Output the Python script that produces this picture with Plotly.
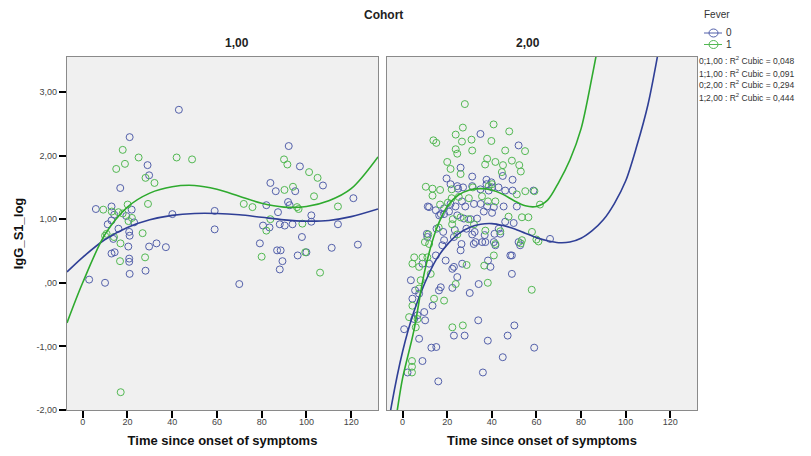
import plotly.graph_objects as go

# ---------------- data ----------------
# Cohort 1,00 - Fever 0
c1_f0_x = [43, 21, 29, 29.7, 16.8, 5.9, 12.9, 14.1, 21.9, 12.9, 11.2, 40.1, 59, 59, 20.8, 13.7, 21, 29.7, 33, 37.2,
           20.4, 2.9, 10, 12.9, 14.3, 20.8, 20.8, 21, 28.1, 70, 79.2, 86.9, 88.5, 89.3, 88.1, 96.1, 98, 100, 111.3,
           123, 92.1, 97.1, 83.9, 86.3, 95, 107.4, 121, 82.1, 87.3, 91.8, 92.5, 102.2, 80.6, 83.5, 88.1, 90.3, 93.8,
           102.2, 114.1, 19.5, 16, 23]
c1_f0_y = [2.72, 2.29, 1.85, 1.69, 1.49, 1.16, 1.20, 1.07, 1.15, 0.98, 0.92, 1.08, 1.13, 0.84, 0.80, 0.69, 0.74, 0.57,
           0.62, 0.56, 0.57, 0.05, 0.0, 0.46, 0.48, 0.38, 0.33, 0.14, 0.19, -0.02, 0.62, 0.51, 0.51, 0.34, 0.21, 0.43,
           0.72, 0.48, 0.55, 0.60, 2.15, 1.83, 1.57, 1.44, 1.44, 1.53, 1.33, 1.22, 1.11, 1.27, 1.22, 1.06, 0.90, 0.87,
           0.92, 0.90, 0.92, 0.96, 0.92, 1.05, 0.85, 0.95]

# Cohort 1,00 - Fever 1
c1_f1_x = [17.9, 18.9, 15, 25, 42, 48.9, 28.1, 32.1, 29.2, 20.1, 9.2, 16, 17.9, 20.5, 10.7, 26.8, 16.9, 10, 16.7, 27.9,
           17, 80, 99.5, 106.1, 90, 91.5, 101.2, 105, 94, 90.2, 103.4, 72, 75.9, 95.8, 96.5, 114.1, 83.9, 82.1, 98.2,
           13, 22, 14]
c1_f1_y = [2.09, 1.87, 1.79, 1.97, 1.97, 1.94, 1.65, 1.57, 1.24, 1.23, 1.15, 1.11, 1.09, 0.97, 0.77, 0.78, 0.62, 0.74,
           0.34, 0.40, -1.72, 0.41, 0.48, 0.16, 1.94, 1.86, 1.74, 1.65, 1.51, 1.46, 1.36, 1.24, 1.19, 1.19, 1.16, 1.20,
           1.00, 0.82, 0.93, 1.12, 1.02, 0.72]

# Cohort 2,00 - Fever 0
c2_f0_x = [34.9, 52, 19.7, 26, 31.2, 37.6, 39.8, 37.6, 44.9, 49.3, 21.5, 24.5, 24.9, 27.1, 31.2, 34.9, 38.6, 40.1, 43,
           46, 49.3, 11.3, 14.9, 18.6, 21.5, 23.7, 26.6, 28.1, 32, 35, 37.9, 40.9, 45.3, 51.2, 16.4, 18.6, 20.8, 24.5,
           27.5, 30.5, 33.4, 36.4, 40.1, 43.1, 46, 49.8, 15.2, 18.2, 23.4, 28.6, 32.3, 36.8, 41.2, 32.7, 35.7, 40.9,
           52, 17.1, 11.9, 11.1, 23, 48.3, 52.7, 66.1, 58.7,
           0.7, 2.2, 8.9, 16, 12.9, 15.1, 23, 27.8, 33.9, 38.2, 36, 44.9, 47.1, 50.1, 59, 49, 34.1, 30.1, 22.3, 24.5,
           16.3, 7.4, 4.4, 5.6, 6.7, 7.4, 5.2, 9.7, 10.1, 13.4, 17.1, 19.3, 23, 26, 26.4, 31.9, 37.1, 41.6, 43.8, 49,
           39.4, 38.3, 10.9, 18.6, 17.8, 31.2, 14.9, 11.9, 3.7, 8.9, 26.7, 22.3]
c2_f0_y = [2.34, 2.16, 1.64, 1.81, 1.67, 1.62, 1.58, 1.55, 1.68, 1.62, 1.55, 1.52, 1.48, 1.50, 1.52, 1.47, 1.45, 1.50,
           1.50, 1.45, 1.45, 1.20, 1.14, 1.17, 1.24, 1.20, 1.28, 1.20, 1.24, 1.24, 1.20, 1.19, 1.20, 1.20, 1.06, 1.08,
           1.12, 1.06, 1.01, 1.00, 1.01, 1.12, 1.10, 0.85, 0.96, 0.94, 0.85, 0.80, 0.83, 0.85, 0.80, 0.75, 0.77, 0.64,
           0.64, 0.64, 0.64, 1.08, 1.19, 0.72, 0.72, 0.43, 0.59, 0.69, 1.45,
           -0.73, -1.41, -1.23, -1.55, -1.02, -1.01, -0.83, -0.83, -0.59, -0.91, -1.41, -1.17, -0.83, -0.67, -1.02,
           0.14, -0.02, -0.16, -0.08, 0.09, -0.12, -0.17, -0.25, -0.12, -0.51, -0.88, -0.57, -0.46, -0.59, -0.36,
           -0.07, 0.35, 0.25, 0.51, 0.61, 0.61, 0.64, 0.59, 0.77, 0.43, 0.25, 0.35, 0.77, 0.67, 0.59, 0.76, 0.43,
           0.30, 0.04, 0.30, 0.30, 0.22]

# Cohort 2,00 - Fever 1
c2_f1_x = [27.9, 40.8, 27, 47.8, 13.8, 15.1, 23.8, 26.6, 30.9, 39.8, 23.8, 24.5, 31.2, 46, 54.9, 37.9, 41.6, 49, 20, 45,
           52.3, 21.5, 37, 26, 44.5, 53, 10.4, 13.4, 16.8, 22, 31.5, 38.6, 40.1, 51.2, 55, 59.1, 61.6, 53.5, 56.4, 13.4,
           16.8, 20.3, 22, 25.2, 29.7, 35.6, 38.3, 41.6, 26, 29.5, 22.5, 32, 37.1, 43.8, 47.5, 16.2, 22.2, 24.5, 11.5,
           10, 53, 58, 60,
           4.4, 7.4, 8.9, 11.9, 12.6, 8.1, 4.4, 5.9, 4.2, 4.2, 4.2, 27, 22.3, 57.9, 38.2, 28.7, 36.6, 40.9, 53.5, 60.9,
           23.8, 18.6, 14.1, 6.7, 11.1, 5.2, 41.6, 7.4, 2.9]
c2_f1_y = [2.81, 2.49, 2.44, 2.38, 2.24, 2.20, 2.33, 2.22, 2.25, 2.23, 2.10, 2.03, 2.08, 2.08, 2.07, 1.95, 1.90, 1.92,
           1.90, 1.85, 1.85, 1.79, 1.86, 1.71, 1.74, 1.75, 1.51, 1.48, 1.46, 1.47, 1.50, 1.52, 1.55, 1.39, 1.44, 1.44,
           1.23, 1.03, 1.03, 1.37, 1.23, 1.26, 1.33, 1.35, 1.33, 1.36, 1.28, 1.28, 1.03, 1.00, 1.00, 0.92, 0.82, 0.81,
           1.04, 0.87, 0.92, 0.76, 0.76, 0.64, 0.62, 0.80, 0.68,
           0.30, 0.25, 0.40, 0.61, 0.14, 0.04, -0.36, -0.70, -1.23, -1.32, -1.41, -0.67, -0.70, -0.11, 0.0, 0.28, 0.27,
           0.43, 0.67, 0.65, -0.02, -0.28, -0.25, -0.57, 0.40, 0.40, 0.61, -0.09, -0.54]

# Cubic fit lines
fit_c1_f0_x = [-7, 0, 10, 20, 30, 40, 50, 60, 70, 80, 90, 100, 110, 120, 132]
fit_c1_f0_y = [0.17, 0.40, 0.68, 0.87, 0.99, 1.06, 1.09, 1.09, 1.07, 1.03, 0.99, 0.97, 0.98, 1.04, 1.16]
fit_c1_f1_x = [-7, 0, 10, 20, 30, 40, 50, 60, 70, 80, 90, 100, 110, 120, 132]
fit_c1_f1_y = [-0.63, 0.0, 0.76, 1.19, 1.41, 1.51, 1.53, 1.47, 1.36, 1.25, 1.19, 1.20, 1.29, 1.48, 1.98]
fit_c2_f0_x = [-6, -5, 0, 5, 10, 15, 20, 25, 30, 35, 40, 45, 50, 55, 60, 65, 70, 75, 80, 85, 90, 95, 100, 105, 110, 115]
fit_c2_f0_y = [-2.15, -1.93, -1.08, -0.46, 0.0, 0.36, 0.60, 0.77, 0.87, 0.92, 0.93, 0.90, 0.85, 0.78, 0.71, 0.66,
               0.63, 0.64, 0.70, 0.82, 0.99, 1.25, 1.60, 2.15, 2.80, 3.70]
fit_c2_f1_x = [-3, -2.2, 0, 5, 10, 15, 20, 25, 30, 35, 40, 45, 50, 55, 60, 65, 70, 75, 80, 85, 88]
fit_c2_f1_y = [-2.15, -1.96, -1.50, -0.76, 0.20, 0.83, 1.20, 1.38, 1.46, 1.48, 1.46, 1.39, 1.29, 1.21, 1.20, 1.30,
               1.58, 1.93, 2.42, 3.25, 3.80]

x_ticks = [0, 20, 40, 60, 80, 100, 120]
y_tickvals = [-2, -1, 0, 1, 2, 3]
y_ticktext = ["-2,00", "-1,00", ",00", "1,00", "2,00", "3,00"]
fever_levels = ["0", "1"]
r2_labels = ["0;1,00 : R<sup>2</sup> Cubic = 0,048", "1;1,00 : R<sup>2</sup> Cubic = 0,091",
             "0;2,00 : R<sup>2</sup> Cubic = 0,294", "1;2,00 : R<sup>2</sup> Cubic = 0,444"]
panel_titles = ["1,00", "2,00"]

# ---------------- styling ----------------
BLUE_M = "#5360aa"
GREEN_M = "#52b852"
BLUE_L = "#2f3f96"
GREEN_L = "#2eaa2e"
FONT = "Liberation Sans, Arial, sans-serif"

fig = go.Figure()

def pts(x, y, color, xa, ya):
    fig.add_trace(go.Scatter(x=x, y=y, mode="markers", xaxis=xa, yaxis=ya, showlegend=False,
                             marker=dict(symbol="circle-open", size=7, color=color, line=dict(width=1, color=color))))

def fit(x, y, color, xa, ya):
    fig.add_trace(go.Scatter(x=x, y=y, mode="lines", xaxis=xa, yaxis=ya, showlegend=False,
                             line=dict(color=color, width=1.6, shape="spline", smoothing=0.9)))

pts(c1_f0_x, c1_f0_y, BLUE_M, "x", "y")
pts(c1_f1_x, c1_f1_y, GREEN_M, "x", "y")
pts(c2_f0_x, c2_f0_y, BLUE_M, "x2", "y2")
pts(c2_f1_x, c2_f1_y, GREEN_M, "x2", "y2")
fit(fit_c1_f0_x, fit_c1_f0_y, BLUE_L, "x", "y")
fit(fit_c1_f1_x, fit_c1_f1_y, GREEN_L, "x", "y")
fit(fit_c2_f0_x, fit_c2_f0_y, BLUE_L, "x2", "y2")
fit(fit_c2_f1_x, fit_c2_f1_y, GREEN_L, "x2", "y2")

# The page body has an 8px margin, so the figure is drawn 8px smaller and offset.
OFF = 8
W, H = 811 - OFF, 456 - OFF
L, T = 67 - OFF, 57 - OFF
R = 811 - 697
B = 456 - 410
pw = W - L - R
ph = H - T - B
gap_l = (378 - 67) / pw
gap_r = (387 - 67) / pw

def px_x(p):  # page pixel -> paper x
    return (p - 67) / pw

def px_y(p):  # page pixel -> paper y
    return (410 - p) / ph

axis_common = dict(range=[-7, 132], tickvals=x_ticks, ticks="outside", ticklen=7, tickwidth=1.5,
                   tickcolor="#000", showline=True, linecolor="#8a8a8a", linewidth=1.2, mirror=True,
                   showgrid=False, zeroline=False, tickfont=dict(size=9, color="#444", family=FONT),
                   ticklabelstandoff=-4,
                   title=dict(text="<b>Time since onset of symptoms</b>", font=dict(size=13, color="#111", family=FONT),
                              standoff=9))

fig.update_layout(
    width=W, height=H,
    margin=dict(l=L, r=R, t=T, b=B, autoexpand=False),
    paper_bgcolor="white",
    plot_bgcolor="#f0f0f0",
    font=dict(family=FONT),
    showlegend=False,
    xaxis=dict(domain=[0, gap_l], anchor="y", **axis_common),
    xaxis2=dict(domain=[gap_r, 1], anchor="y2", **axis_common),
    yaxis=dict(domain=[0, 1], anchor="x", range=[-2, 3.55], tickvals=y_tickvals, ticktext=y_ticktext,
               ticks="outside", ticklen=7, tickwidth=1.5, tickcolor="#000", showline=True, linecolor="#8a8a8a",
               linewidth=1.2, mirror=True, showgrid=False, zeroline=False,
               tickfont=dict(size=9, color="#444", family=FONT),
               title=dict(text="<b>IgG_S1_log</b>", font=dict(size=13, color="#111", family=FONT), standoff=10)),
    yaxis2=dict(domain=[0, 1], anchor="x2", matches="y", range=[-2, 3.55], showticklabels=False, ticks="",
                showline=True, linecolor="#8a8a8a", linewidth=1.2, mirror=True, showgrid=False, zeroline=False),
)

# titles
fig.add_annotation(text="<b>Cohort</b>", x=px_x(383), y=px_y(15), xref="paper", yref="paper",
                   showarrow=False, font=dict(size=12, color="#222", family=FONT), yanchor="middle")
fig.add_annotation(text="<b>" + panel_titles[0] + "</b>", x=gap_l / 2, y=px_y(43), xref="paper",
                   yref="paper", showarrow=False, font=dict(size=12, color="#222", family=FONT), yanchor="middle")
fig.add_annotation(text="<b>" + panel_titles[1] + "</b>", x=(gap_r + 1) / 2, y=px_y(43), xref="paper",
                   yref="paper", showarrow=False, font=dict(size=12, color="#222", family=FONT), yanchor="middle")

# legend (drawn by hand to match the compact SPSS legend)
fig.add_annotation(text="Fever", x=px_x(702), y=px_y(15), xref="paper", yref="paper", xanchor="left",
                   yanchor="middle", showarrow=False, font=dict(size=10, color="#333", family=FONT))
for i, (lvl, col) in enumerate(zip(fever_levels, [BLUE_M, GREEN_M])):
    yc = 33 + 11.5 * i
    fig.add_shape(type="line", xref="paper", yref="paper", x0=px_x(704), x1=px_x(722), y0=px_y(yc), y1=px_y(yc),
                  line=dict(color=col, width=1))
    fig.add_shape(type="circle", xref="paper", yref="paper", x0=px_x(709), x1=px_x(718), y0=px_y(yc - 4),
                  y1=px_y(yc + 4), line=dict(color=col, width=1))
    fig.add_annotation(text=lvl, x=px_x(724), y=px_y(yc), xref="paper", yref="paper", xanchor="left",
                       yanchor="middle", showarrow=False, font=dict(size=10, color="#333", family=FONT))

for i, txt in enumerate(r2_labels):
    fig.add_annotation(text=txt, x=px_x(697), y=px_y(61 + 12 * i), xref="paper", yref="paper",
                       xanchor="left", yanchor="middle", showarrow=False,
                       font=dict(size=8.5, color="#333", family=FONT))

fig.write_html("out.html")
